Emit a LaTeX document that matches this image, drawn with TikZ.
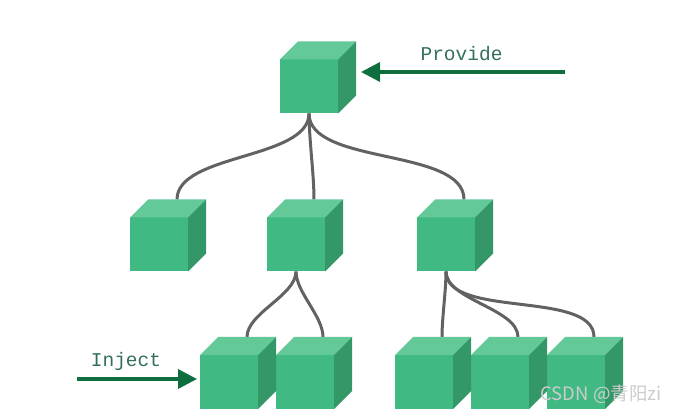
\documentclass[tikz,border=0pt]{standalone}
\usepackage{fontspec}
\usetikzlibrary{positioning,calc,arrows.meta,backgrounds}
\newfontfamily\labelfont{Liberation Mono}
\newfontfamily\cjkfont{Noto Sans CJK SC}
\definecolor{cubefront}{RGB}{64,185,131}
\definecolor{cubelid}{RGB}{99,201,153}
\definecolor{cubeflank}{RGB}{51,151,104}
\definecolor{branchgray}{RGB}{98,98,98}
\definecolor{arrowgreen}{RGB}{14,110,62}
\definecolor{labelgreen}{RGB}{50,112,88}
\tikzset{
	cubebox/.style={rectangle, fill=cubefront, minimum width=58pt, minimum height=54pt, inner sep=0pt, outer sep=0pt},
	branch/.style={draw=branchgray, line width=3pt, out=-90, in=90, looseness=0.75},
	hint/.style={font=\labelfont\fontsize{19.5}{20}\selectfont, text=labelgreen, anchor=base},
	pointer/.style={draw=arrowgreen, line width=3.5pt, -{Triangle[length=19pt,width=19pt]}},
}
\newcommand{\cubesides}[1]{%
	\fill[cubelid]   (#1.north west) -- ++(18,18) -- ++(58,0) -- (#1.north east) -- cycle;
	\fill[cubeflank] (#1.north east) -- ++(18,18) -- ++(0,-54) -- (#1.south east) -- cycle;
	\coordinate (#1-in) at ($(#1.north)+(18,18)$);
}
\begin{document}
\begin{tikzpicture}[x=1pt,y=1pt]
		\useasboundingbox (0,0) rectangle (679,412);
		% cubes
		\node (top) [cubebox] at (309,325.5) {};
		\node (l)   [cubebox] at (159,167.5) {};
		\node (m)   [cubebox] at (296,167.5) {};
		\node (r)   [cubebox] at (446,167.5) {};
		\node (a)   [cubebox] at (229,30)    {};
		\node (b)   [cubebox, right=18pt of a] {};
		\node (c)   [cubebox] at (424,30)    {};
		\node (d)   [cubebox, right=18pt of c] {};
		\node (e)   [cubebox, right=18pt of d] {};
		\cubesides{top} \cubesides{l} \cubesides{m} \cubesides{r}
		\cubesides{a} \cubesides{b} \cubesides{c} \cubesides{d} \cubesides{e}
		% branches
		\begin{scope}[on background layer]
			\draw[branch] (top.south) to (l-in);
			\draw[branch] (top.south) to (m-in);
			\draw[branch] (top.south) to (r-in);
			\draw[branch] (m.south) to (a-in);
			\draw[branch] (m.south) to (b-in);
			\draw[branch] (r.south) to (c-in);
			\draw[branch] (r.south) to (d-in);
			\draw[branch] (r.south) to (e-in);
		\end{scope}
		% provide / inject
		\coordinate (pv) at (565,340);
		\coordinate (ij) at (77,33);
		\node (provide) [hint] at (461.5,351) {Provide};
		\node (inject)  [hint] at (126,46)    {Inject};
		\draw[pointer, shorten >=23pt] (pv) -- (pv -| top.east);
		\draw[pointer, shorten >=3pt]  (ij) -- (ij -| a.west);
		\node (mark) [font=\cjkfont\fontsize{18.5}{18.5}\selectfont, text=white!80!black, anchor=base] at (601,12) {CSDN @青阳zi};
\end{tikzpicture}
\end{document}
